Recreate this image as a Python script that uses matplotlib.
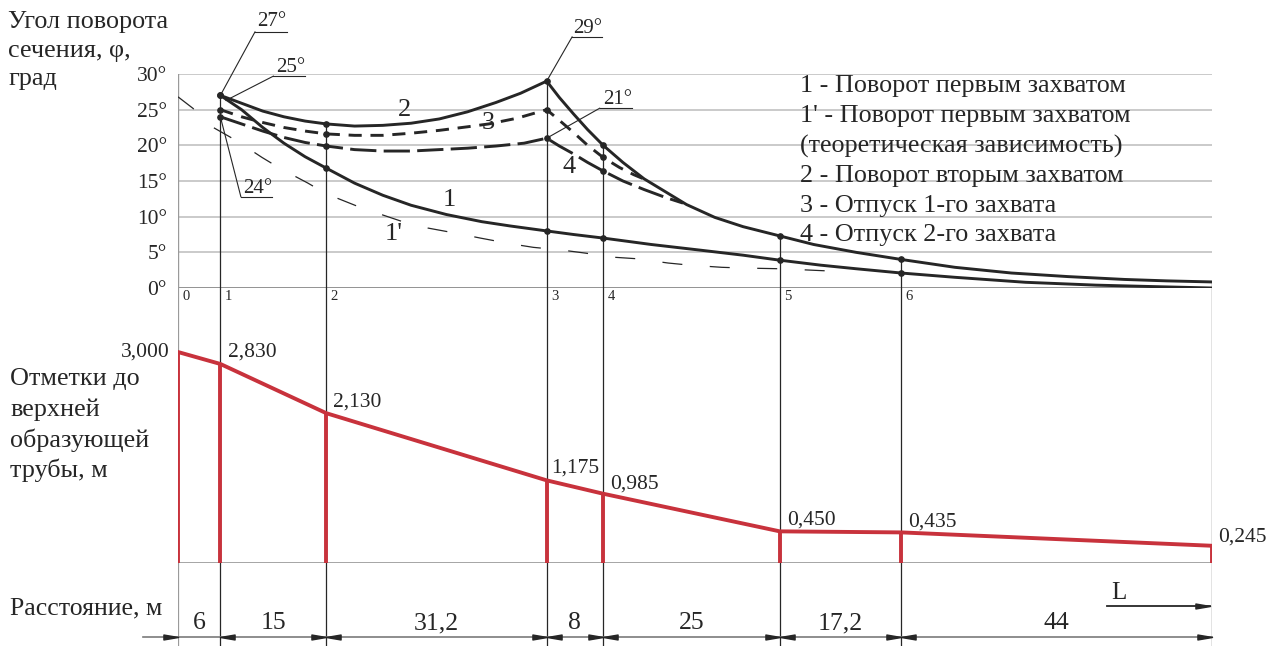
import numpy as np
import matplotlib
matplotlib.use("Agg")
import matplotlib.pyplot as plt
from matplotlib.path import Path

plt.rcParams['font.family'] = ['Liberation Serif', 'DejaVu Serif']

# ---------------- data ----------------
distances = [6, 15, 31.2, 8, 25, 17.2, 44]
distance_labels = ["6", "15", "31,2", "8", "25", "17,2", "44"]
station_names = ["0", "1", "2", "3", "4", "5", "6"]
elevations = [3.000, 2.830, 2.130, 1.175, 0.985, 0.450, 0.435, 0.245]
elevation_labels = ["3,000", "2,830", "2,130", "1,175", "0,985", "0,450", "0,435", "0,245"]

angle_ticks = [0, 5, 10, 15, 20, 25, 30]

# curve 2 - rotation by second grip
c2_x = [6, 9, 12, 15, 18, 21, 25, 29, 33, 37, 41, 45, 48.5, 52.2, 54, 56, 58, 60.2,
        63, 66, 69, 72, 76, 80, 85.2, 90, 96, 102.4, 110, 118, 126, 134, 140, 146.4]
c2_y = [27.0, 25.9, 24.8, 24.0, 23.4, 23.0, 22.7, 22.8, 23.1, 23.7, 24.7, 26.0, 27.3, 29.0,
        26.7, 24.4, 22.2, 20.0, 17.6, 15.3, 13.5, 11.7, 9.9, 8.6, 7.3, 6.1, 5.0, 4.0,
        2.9, 2.1, 1.6, 1.2, 1.0, 0.85]
# curve 1 - rotation by first grip
c1_x = [6, 9, 12, 15, 18, 21, 25, 29, 33, 38, 43, 47, 52.2, 56, 60.2, 67, 74, 80, 85.2,
        91, 96, 102.4, 110, 120, 130, 138, 146.4]
c1_y = [27.0, 25.0, 22.5, 20.3, 18.4, 16.8, 14.7, 13.0, 11.6, 10.3, 9.3, 8.7, 8.0, 7.5,
        7.0, 6.1, 5.3, 4.6, 3.9, 3.2, 2.7, 2.1, 1.5, 0.8, 0.4, 0.2, 0.0]
# curve 3 - release of the 1st grip
c3_x = [6, 9, 12, 15, 18, 21, 25, 29, 33, 37, 41, 44, 48, 52.2, 54, 56, 58, 60.2, 62.5, 64.5, 66.4]
c3_y = [25.0, 24.0, 23.2, 22.5, 22.0, 21.6, 21.4, 21.4, 21.7, 22.1, 22.6, 23.0, 23.8, 25.0,
        23.5, 21.8, 20.0, 18.3, 16.9, 15.9, 15.1]
# curve 4 - release of the 2nd grip
c4_x = [6, 9, 12, 15, 18, 21, 25, 29, 33, 37, 41, 45, 49, 52.2, 54, 56, 58, 60.2, 63, 66, 69, 71.5]
c4_y = [24.0, 23.0, 22.0, 21.1, 20.4, 19.9, 19.4, 19.2, 19.2, 19.4, 19.6, 19.9, 20.3, 21.0,
        19.9, 18.8, 17.6, 16.4, 15.0, 13.8, 12.7, 11.9]
# curve 1' - theoretical
c1t_x = [0, 2.1, 5, 8.2, 11.9, 14.4, 18.4, 21, 25.3, 28.2, 32.4, 35.4, 39.8, 42.8, 47.1,
         50.3, 54.5, 57.6, 61.9, 65, 69.4, 72.5, 77, 80, 85.2, 91.9, 95.1]
c1t_y = [26.8, 25.2, 22.5, 20.7, 18.3, 16.8, 14.7, 13.2, 11.5, 10.5, 9.1, 8.4, 7.6, 7.0, 6.2,
         5.7, 5.3, 4.9, 4.3, 4.1, 3.5, 3.2, 2.9, 2.8, 2.7, 2.4, 2.4]

legend_lines = ["1 - Поворот первым захватом",
                "1' - Поворот первым захватом",
                "(теоретическая зависимость)",
                "2 - Поворот вторым захватом",
                "3 - Отпуск 1-го захвата",
                "4 - Отпуск 2-го захвата"]

stations = np.concatenate([[0], np.cumsum(distances)])
L_total = stations[-1]

# ---------------- figure ----------------
W, H = 1276, 646
fig = plt.figure(figsize=(W / 100, H / 100), dpi=100)
fig.patch.set_facecolor('white')

def fx(px):
    return px / W

def fy(py):
    return 1 - py / H

x0p, x1p = 178, 1212
ax_top = fig.add_axes([fx(x0p), fy(288), fx(x1p) - fx(x0p), fy(74) - fy(288)])
ax_bot = fig.add_axes([fx(x0p), fy(563), fx(x1p) - fx(x0p), fy(288) - fy(563)])
ax_dim = fig.add_axes([fx(x0p), 0, fx(x1p) - fx(x0p), fy(563)])

for a in (ax_top, ax_bot, ax_dim):
    a.set_xlim(0, L_total)
    for s in a.spines.values():
        s.set_visible(False)
    a.set_xticks([])
    a.patch.set_alpha(0)

ax_top.set_ylim(0, 30)
px_per_m_elev = 70.33
ax_bot.set_ylim(0, (563 - 288) / px_per_m_elev)
ax_bot.set_yticks([])
ax_dim.set_ylim(0, 83)
ax_dim.set_yticks([])

ink = '#262626'
grid_c = '#c6c6c6'
red = '#c8323c'

# ---- top chart ----
ax_top.set_yticks(angle_ticks)
ax_top.set_yticklabels([f"{v}°" for v in angle_ticks], fontsize=15.5, color=ink)
ax_top.tick_params(axis='y', length=0, pad=8)
for v in angle_ticks:
    ax_top.axhline(v, color=grid_c if v else '#8a8a8a', lw=1.3, zorder=0)
ax_top.plot([0, 0], [0, 30], color='#9a9a9a', lw=1.0, zorder=0)

def val_at(xs, ys, x):
    for a, b in zip(xs, ys):
        if abs(a - x) < 1e-6:
            return b
    return None

# vertical station lines in top chart (from 0 up to curve 2)
for s in stations[1:]:
    top = val_at(c2_x, c2_y, s)
    ax_top.plot([s, s], [0, top], color=ink, lw=0.9, zorder=1)

ax_top.plot(c1t_x, c1t_y, color=ink, lw=0.9, linestyle=(0, (16, 22)), zorder=2)
ax_top.plot(c1_x, c1_y, color=ink, lw=2.1, zorder=3, solid_capstyle='round')
ax_top.plot(c2_x, c2_y, color=ink, lw=2.1, zorder=3, solid_capstyle='round')
ax_top.plot(c3_x, c3_y, color=ink, lw=2.1, linestyle=(0, (4.5, 3.0)), zorder=3)
ax_top.plot(c4_x, c4_y, color=ink, lw=2.1, linestyle=(0, (9, 2.5)), zorder=3)

for xs, ys, sts in [(c1_x, c1_y, stations[1:7]), (c2_x, c2_y, stations[1:7]),
                    (c3_x, c3_y, stations[1:5]), (c4_x, c4_y, stations[1:5])]:
    mx = [s for s in sts]
    my = [val_at(xs, ys, s) for s in sts]
    ax_top.plot(mx, my, 'o', color=ink, ms=3.8, zorder=4)

# curve labels
for txt, (lx, ly) in [("2", (32.1, 25.0)), ("3", (43.9, 23.1)), ("4", (55.4, 17.0)),
                      ("1", (38.4, 12.4)), ("1'", (30.6, 7.5))]:
    ax_top.text(lx, ly, txt, fontsize=19, color=ink, ha='center', va='center', zorder=5)

# leader annotations
def leader(text, tip, start, end_x, tx, ty):
    ax_top.plot([tip[0], start[0]], [tip[1], start[1]], color=ink, lw=0.8, clip_on=False, zorder=5)
    ax_top.plot([start[0], end_x], [start[1], start[1]], color=ink, lw=0.8, clip_on=False, zorder=5)
    ax_top.text(tx, ty, text, fontsize=15, color=ink, ha='center', va='center', clip_on=False)

leader("27°", (stations[1], 27.0), (10.9, 35.9), 15.4, 13.2, 37.3)
leader("25°", (6.8, 26.3), (13.5, 29.7), 18.0, 15.9, 30.9)
leader("24°", (stations[1], 24.0), (8.9, 12.8), 13.3, 11.3, 14.0)
leader("29°", (stations[3], 29.0), (55.8, 35.2), 60.0, 58.0, 36.4)
leader("21°", (stations[3], 21.0), (59.7, 25.2), 64.3, 62.2, 26.4)

# legend text
leg_y = [28.3, 24.1, 19.8, 15.7, 11.5, 7.4]
for t, yy in zip(legend_lines, leg_y):
    ax_top.text(88.1, yy, t, fontsize=18.8, color=ink, ha='left', va='center', zorder=5)

# ---- bottom chart (elevations) ----
ytop_bot = (563 - 288) / px_per_m_elev
for i, s in enumerate(stations):
    ax_bot.plot([s, s], [0, ytop_bot], color='#9a9a9a' if i == 0 else ink, lw=0.9, zorder=1)
ax_bot.plot([0, L_total], [0, 0], color='#8a8a8a', lw=1.8, zorder=1)
ax_bot.plot(stations, elevations, color=red, lw=2.8, zorder=3, solid_joinstyle='round')
for s, e in zip(stations, elevations):
    ax_bot.plot([s, s], [0, e], color=red, lw=2.8, zorder=3, solid_capstyle='butt')

label_offsets = [(-8, 0), (8, 12), (7, 11), (4, 12), (7, 10), (7, 11), (7, 10), (6, 9)]
for (s, e, t, (ox, oy)) in zip(stations, elevations, elevation_labels, label_offsets):
    ax_bot.annotate(t, (s, e), xytext=(ox * 0.72, oy * 0.72), textcoords='offset points',
                    ha='right' if ox < 0 else 'left', va='center', fontsize=15.5, color=ink,
                    annotation_clip=False)

for s, n in zip(stations[:-1], station_names):
    ax_bot.annotate(n, (s, ytop_bot), xytext=(4.5 * 0.72, -8 * 0.72), textcoords='offset points',
                    ha='left', va='center', fontsize=10.5, color=ink)

# ---- dimension row ----
def ypix(py):
    return 646 - py

for i, s in enumerate(stations):
    ax_dim.plot([s, s], [0, 83], color='#9a9a9a' if i == 0 else ink, lw=0.9, zorder=1)

dim_y = ypix(637)
ax_dim.plot([-5.0, L_total], [dim_y, dim_y], color='#7a7a7a', lw=1.2, clip_on=False, zorder=2)

arrow_r = Path([(0, 0), (-1, 0.17), (-1, -0.17), (0, 0)],
               [Path.MOVETO, Path.LINETO, Path.LINETO, Path.CLOSEPOLY])
arrow_l = Path([(0, 0), (1, 0.17), (1, -0.17), (0, 0)],
               [Path.MOVETO, Path.LINETO, Path.LINETO, Path.CLOSEPOLY])
ams = 21

right_tips = [stations[0]] + list(stations[2:])
left_tips = list(stations[1:-1])
ax_dim.plot(right_tips, [dim_y] * len(right_tips), linestyle='none', marker=arrow_r,
            ms=ams, color=ink, clip_on=False, zorder=3)
ax_dim.plot(left_tips, [dim_y] * len(left_tips), linestyle='none', marker=arrow_l,
            ms=ams, color=ink, clip_on=False, zorder=3)

for a, b, t in zip(stations[:-1], stations[1:], distance_labels):
    ax_dim.text((a + b) / 2, ypix(623), t, fontsize=18.5, color=ink, ha='center', va='center')

# L arrow
L_start = 131.5
ax_dim.plot([L_start, L_total - 0.3], [ypix(606), ypix(606)], color=ink, lw=1.3, zorder=2)
ax_dim.plot([L_total - 0.3], [ypix(606)], linestyle='none', marker=arrow_r, ms=ams, color=ink, zorder=3)
ax_dim.text(133.2, ypix(593), "L", fontsize=18, color=ink, ha='center', va='center')

# ---- side titles ----
fig.text(fx(8), fy(22), "Угол поворота", fontsize=18.8, color=ink, ha='left', va='center')
fig.text(fx(8), fy(51), "сечения, φ,", fontsize=18.8, color=ink, ha='left', va='center')
fig.text(fx(8), fy(79), "град", fontsize=18.8, color=ink, ha='left', va='center')

for t, yy in zip(["Отметки до", "верхней", "образующей", "трубы, м"], [379, 410, 440, 470]):
    fig.text(fx(10), fy(yy), t, fontsize=18.8, color=ink, ha='left', va='center')

fig.text(fx(10), fy(608), "Расстояние, м", fontsize=18.5, color=ink, ha='left', va='center')

fig.savefig("out.png", dpi=100)
